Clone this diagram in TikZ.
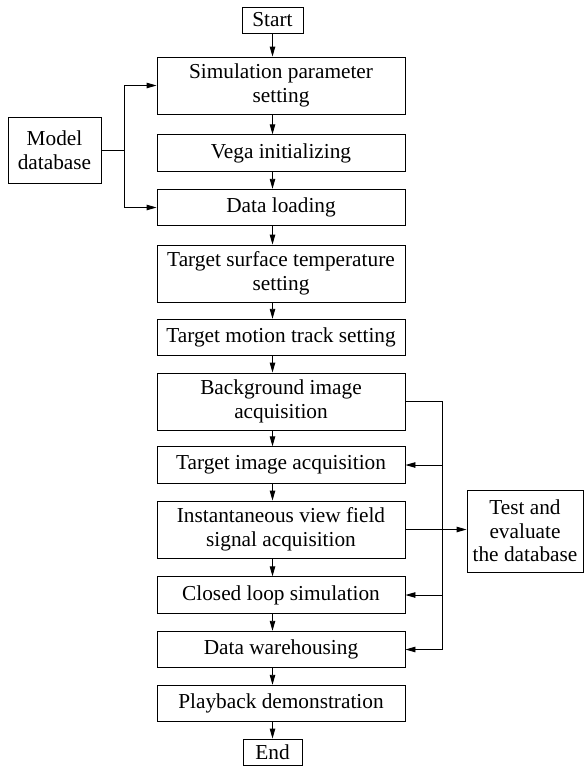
\documentclass[tikz,border=0pt]{standalone}
\usepackage{fontspec}
\setmainfont{Liberation Serif}
\usetikzlibrary{arrows.meta}
\begin{document}
\begin{tikzpicture}[x=1pt,y=-1pt,
  box/.style={draw, line width=0.9pt, align=center, inner sep=2pt, font=\fontsize{21.3}{23.5}\selectfont},
  stage/.style={box, minimum width=248pt, minimum height=36.5pt},
  tall/.style={stage, minimum height=57pt},
  arr/.style={-{Triangle[length=10pt,width=5.5pt]}, line width=0.9pt}]
\useasboundingbox (0,0) rectangle (585,766);

% main column
\node[box, minimum width=61pt, minimum height=26pt] (start) at (272.5,20) {Start};
\node[tall] (param) at (281,85.5) {Simulation parameter\\setting};
\node[stage] (vega) at (281,153) {Vega initializing};
\node[stage] (load) at (281,207.5) {Data loading};
\node[tall] (surface) at (281,273.5) {Target surface temperature\\setting};
\node[stage] (motion) at (281,337.5) {Target motion track setting};
\node[tall] (backgr) at (281,401.5) {Background image\\acquisition};
\node[stage] (tgtimg) at (281,465) {Target image acquisition};
\node[tall] (view) at (281,529.5) {Instantaneous view field\\signal acquisition};
\node[stage] (closed) at (281,595) {Closed loop simulation};
\node[stage] (store) at (281,649.5) {Data warehousing};
\node[stage] (playback) at (281,703.5) {Playback demonstration};
\node[box, minimum width=59pt, minimum height=26pt] (end) at (272.5,752) {End};

\foreach \a/\b in {start/param, param/vega, vega/load, load/surface, surface/motion,
    motion/backgr, backgr/tgtimg, tgtimg/view, view/closed, closed/store,
    store/playback, playback/end}
  \draw[arr] (\a.south -| start) -- (\b.north -| start);

% side boxes
\node[box, minimum width=93pt, minimum height=66pt] (model) at (54.5,150) {Model\\database};
\node[box, minimum width=116pt, minimum height=82pt] (test) at (525,531) {Test and\\evaluate\\the database};

\coordinate (split) at (124,150);
\draw[line width=0.9pt] (model.east) -- (split);
\draw[arr] (split) |- (param.west);
\draw[arr] (split) |- (load.west);

\coordinate (ret) at (442,649.5);
\draw[line width=0.9pt] (backgr.east) -| (ret);
\draw[arr] (ret) -- (store.east);
\draw[arr] (tgtimg.east -| ret) -- (tgtimg.east);
\draw[arr] (closed.east -| ret) -- (closed.east);
\draw[arr] (view.east) -- (view.east -| test.west);

\end{tikzpicture}
\end{document}
